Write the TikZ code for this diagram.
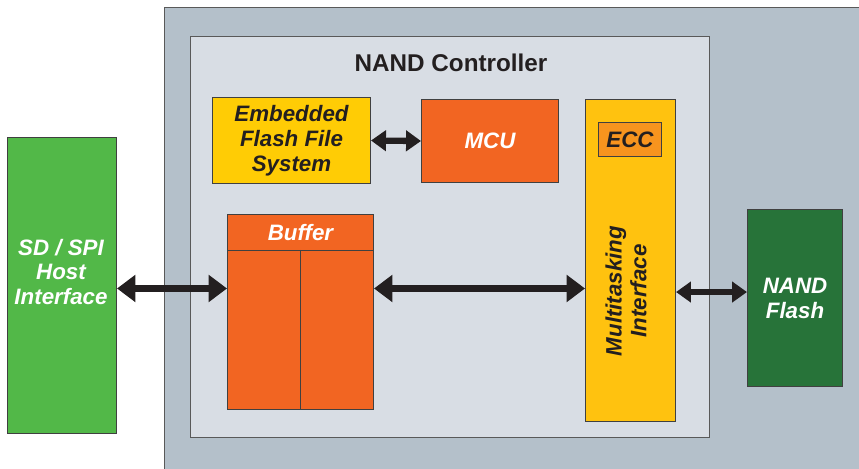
\documentclass[tikz,border=0pt]{standalone}
\usepackage{fontspec}
\setmainfont{Liberation Sans}
\usetikzlibrary{arrows.meta}

\definecolor{housing}{HTML}{B4C0CA}
\definecolor{ctrlfill}{HTML}{D8DDE4}
\definecolor{fsyellow}{HTML}{FFCC05}
\definecolor{mtiyellow}{HTML}{FFC20F}
\definecolor{eccorange}{HTML}{F7941E}
\definecolor{blockorange}{HTML}{F26522}
\definecolor{hostgreen}{HTML}{52B848}
\definecolor{flashgreen}{HTML}{277339}
\definecolor{ink}{HTML}{231F20}

\begin{document}
\begin{tikzpicture}[x=0.02cm,y=-0.02cm,
  block/.style={draw=black!75,line width=0.6pt,inner sep=0pt,anchor=north west,
    align=center,font=\fontsize{12.7}{14.2}\selectfont\bfseries\itshape},
  biarrow/.style={draw=ink,line width=3.8pt,
    {Triangle[length=10.5pt,width=15pt]}-{Triangle[length=10.5pt,width=15pt]}},
  smallbiarrow/.style={draw=ink,line width=3.6pt,
    {Triangle[length=8.5pt,width=11.5pt]}-{Triangle[length=8.5pt,width=11.5pt]}}]
  \useasboundingbox (0,0) rectangle (859,469);

  % housing and controller
  \node[block,draw=black!65,fill=housing,minimum width=14.4cm,minimum height=9.6cm] (housing) at (164,7) {};
  \node[block,draw=black!65,fill=ctrlfill,minimum width=10.38cm,minimum height=8.02cm] (ctrl) at (190,36) {};
  \node[text=ink,font=\fontsize{13.8}{16}\selectfont\bfseries] (title) at (451,63) {NAND Controller};

  % blocks inside the controller
  \node[block,fill=fsyellow,text=ink,minimum width=3.16cm,minimum height=1.72cm] (effs) at (212,97)
    {Embedded\\Flash File\\System};
  \node[block,fill=blockorange,text=white,minimum width=2.74cm,minimum height=1.66cm] (mcu) at (421,99) {MCU};
  \node[block,fill=mtiyellow,minimum width=1.8cm,minimum height=6.44cm] (mti) at (585,99) {};
  \node[block,fill=eccorange,text=ink,minimum width=1.26cm,minimum height=0.68cm] (ecc) at (598,122) {ECC};
  \node[text=ink,rotate=90,align=center,font=\fontsize{12.7}{14.2}\selectfont\bfseries\itshape] (mtitext) at (626,291)
    {Multitasking\\Interface};
  \node[block,fill=blockorange,text=white,minimum width=2.92cm,minimum height=0.72cm] (bufhead) at (227,214) {Buffer};
  \node[block,fill=blockorange,minimum width=2.92cm,minimum height=3.18cm] (bufbody) at (227,250) {};
  \draw[black!75,line width=0.6pt] (bufbody.north) -- (bufbody.south);

  % outside blocks
  \node[block,fill=hostgreen,minimum width=2.18cm,minimum height=5.92cm] (sd) at (7,137) {};
  \node[text=white,align=center,font=\fontsize{12.7}{14.2}\selectfont\bfseries\itshape] (sdtext) at (61,272)
    {SD / SPI\\Host\\Interface};
  \node[block,fill=flashgreen,text=white,minimum width=1.9cm,minimum height=3.54cm] (nand) at (747,209)
    {NAND\\Flash};

  % connections
  \draw[smallbiarrow] (effs.east) -- (mcu.west);
  \draw[biarrow,transform canvas={yshift=-1.7pt}] (sd.east) -- (sd.east -| bufbody.west);
  \draw[biarrow,transform canvas={yshift=-1.7pt}] (bufbody.east |- sd.east) -- (mti.west |- sd.east);
  \draw[smallbiarrow,transform canvas={yshift=3.4pt}] (mti.east |- nand.west) -- (nand.west);
\end{tikzpicture}
\end{document}
